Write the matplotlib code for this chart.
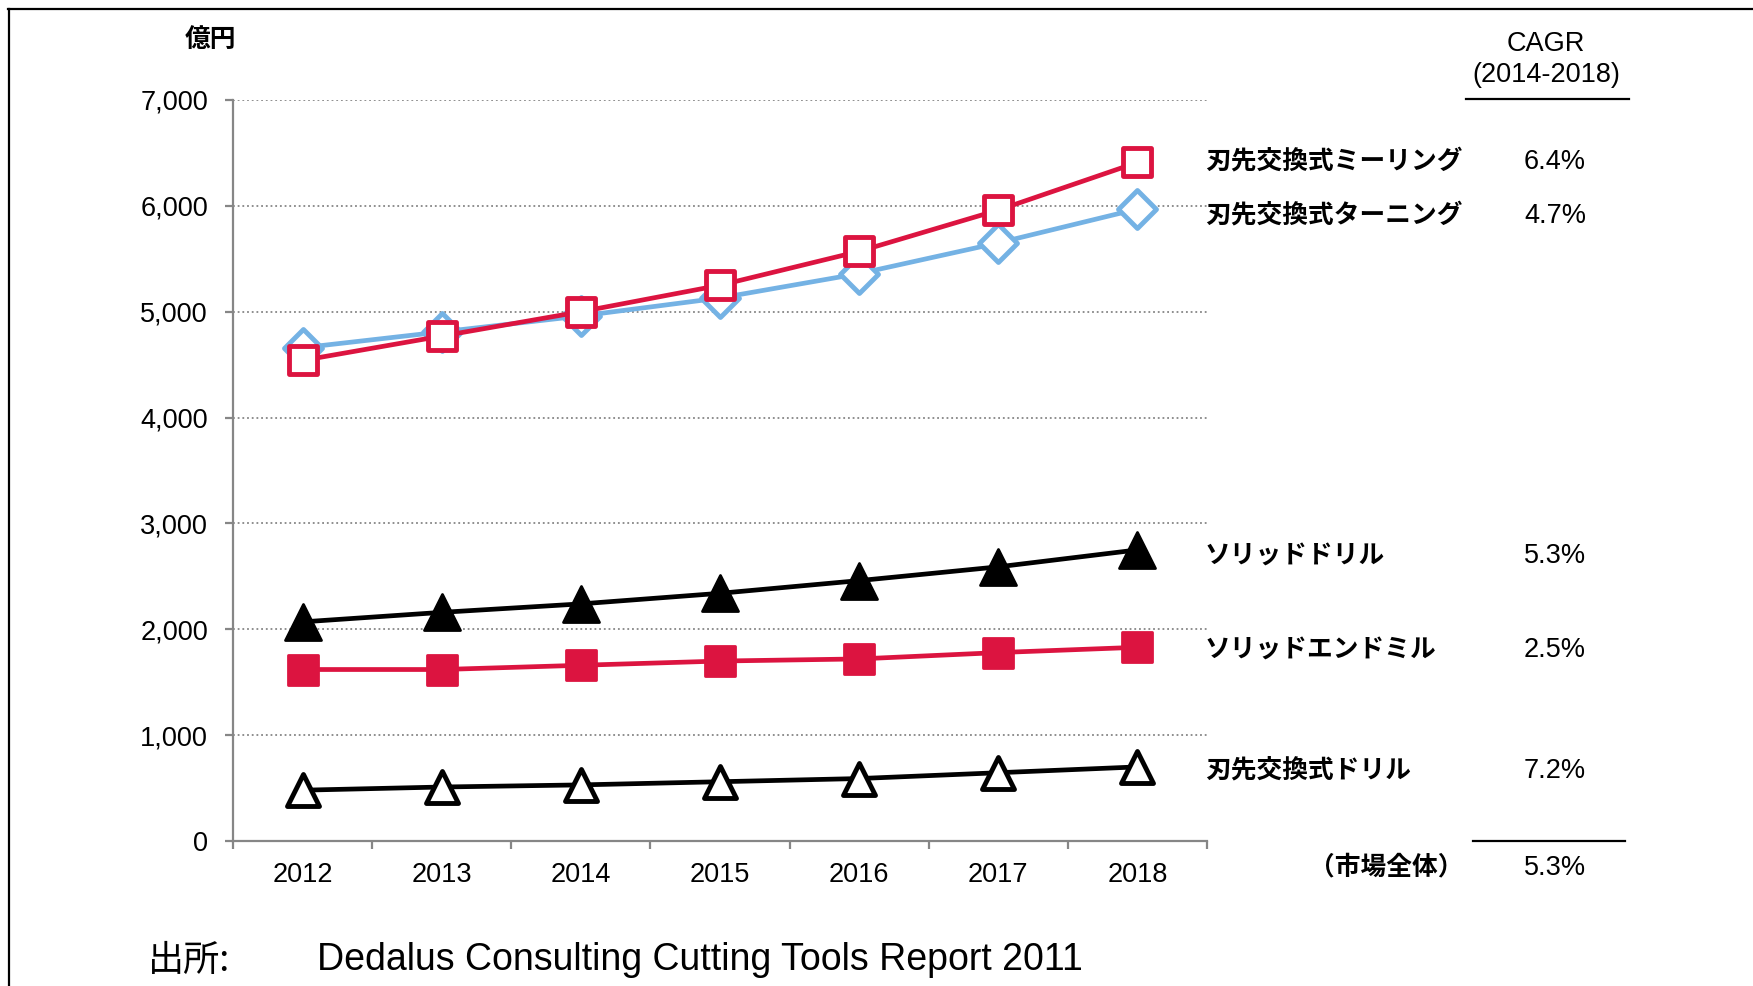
import numpy as np
import matplotlib
import matplotlib.pyplot as plt
from matplotlib.lines import Line2D
from matplotlib.markers import MarkerStyle

# Use a non-interactive backend
matplotlib.use('Agg')

# data (億円)
years = ['2012', '2013', '2014', '2015', '2016', '2017', '2018']
milling = [4540, 4770, 5000, 5250, 5570, 5960, 6410]
turning = [4660, 4810, 4960, 5130, 5360, 5650, 5970]
solid_drill = [2070, 2160, 2240, 2340, 2460, 2590, 2750]
solid_endmill = [1620, 1620, 1660, 1700, 1720, 1780, 1830]
indexable_drill = [480, 510, 530, 560, 590, 645, 700]

series_names = ['刃先交換式ミーリング', '刃先交換式ターニング', 'ソリッドドリル',
                'ソリッドエンドミル', '刃先交換式ドリル']
cagr_values = ['6.4%', '4.7%', '5.3%', '2.5%', '7.2%']
total_label = '（市場全体）'
total_cagr = '5.3%'
y_ticks = [0, 1000, 2000, 3000, 4000, 5000, 6000, 7000]

unit_label = '億円'
cagr_title = ['CAGR', '(2014-2018)']
source_head = '出所:'
source_text = 'Dedalus Consulting Cutting Tools Report 2011'

# figure size in pixels, everything below placed in pixel coords from top-left
W, H = 1753, 986
JP = ['Noto Sans CJK JP', 'DejaVu Sans']
LAT = 'Liberation Sans'
RED = '#DC1440'
BLUE = '#74B2E4'
GREY = '#868686'


def fx(x):
    return x / W


def fy(y):
    return 1 - y / H


def put(x, yc, s, size, family, weight='normal', ha='left', k=0.36):
    # yc is the visual centre of the glyphs, shift down to the baseline
    em = size * 100 / 72
    return fig.text(fx(x), fy(yc + k * em), s, ha=ha, va='baseline',
                    fontsize=size, family=family, fontweight=weight, color='black')


def mk(shape):
    # rounded corners like the office-style markers
    return MarkerStyle(shape, joinstyle='round')


fig = plt.figure(figsize=(W / 100, H / 100), dpi=100)
fig.patch.set_facecolor('white')

ax = fig.add_axes([fx(233), fy(841), (1207 - 233) / W, (841 - 100) / H])
x = np.arange(len(years))

# series
ax.plot(x, turning, color=BLUE, lw=3.4, marker=mk('D'), ms=19, mfc='white',
        mec=BLUE, mew=3.5, zorder=3)
ax.plot(x, milling, color=RED, lw=3.4, marker=mk('s'), ms=20, mfc='white',
        mec=RED, mew=3.5, zorder=4)
ax.plot(x, solid_drill, color='black', lw=3.4, marker=mk('^'), ms=26, mfc='black',
        mec='black', mew=2, zorder=3)
ax.plot(x, solid_endmill, color=RED, lw=3.4, marker=mk('s'), ms=22, mfc=RED,
        mec=RED, mew=2, zorder=3)
ax.plot(x, indexable_drill, color='black', lw=3.4, marker=mk('^'), ms=23, mfc='white',
        mec='black', mew=3.5, zorder=3)

ax.set_xlim(-0.5, len(years) - 0.5)
ax.set_ylim(0, 7000)

# axes styling
for side in ['top', 'right']:
    ax.spines[side].set_visible(False)
for side in ['left', 'bottom']:
    ax.spines[side].set_color(GREY)
    ax.spines[side].set_linewidth(1.6)

ax.set_yticks(y_ticks)
ax.set_yticklabels([f'{v:,}' for v in y_ticks], fontsize=19.5, family=LAT)
ax.tick_params(axis='y', length=6, width=1.6, color=GREY, pad=12)

ax.set_xticks(x)
ax.set_xticklabels(years, fontsize=19.5, family=LAT)
ax.set_xticks(np.arange(-0.5, len(years), 1), minor=True)
ax.tick_params(axis='x', which='major', length=0, pad=15)
ax.tick_params(axis='x', which='minor', length=6, width=1.6, color=GREY)

ax.set_axisbelow(True)
ax.yaxis.grid(True, linestyle=(0, (1, 1.6)), color=GREY, lw=1.3)

# texts around the plot
put(210, 37, unit_label, 18.5, JP, weight='bold', ha='center', k=0.38)
put(1546, 41, cagr_title[0], 19.5, LAT, ha='center')
put(1546, 72, cagr_title[1], 19.5, LAT, ha='center')
fig.add_artist(Line2D([fx(1466), fx(1629)], [fy(99), fy(99)], color='black', lw=1.6))

label_y = [159, 213, 553, 647, 768]
for name, val, yc in zip(series_names, cagr_values, label_y):
    put(1205, yc, name, 18.5, JP, weight='bold', k=0.38)
    put(1586, yc, val, 19.5, LAT, ha='right')

fig.add_artist(Line2D([fx(1473), fx(1625)], [fy(841), fy(841)], color='black', lw=1.6))
put(1386, 865, total_label, 18.5, JP, weight='bold', ha='center', k=0.38)
put(1586, 865, total_cagr, 19.5, LAT, ha='right')

# source line
put(148, 957, source_head, 26, JP, k=0.38)
put(317, 957, source_text, 27, LAT)

# outer frame (cut off at right and bottom in the reference)
fig.add_artist(Line2D([fx(8), fx(W + 5)], [fy(9), fy(9)], color='black', lw=1.6))
fig.add_artist(Line2D([fx(8.5), fx(8.5)], [fy(9), fy(H + 5)], color='black', lw=1.6))

fig.savefig('out.png', dpi=100, facecolor='white')
plt.close(fig)
